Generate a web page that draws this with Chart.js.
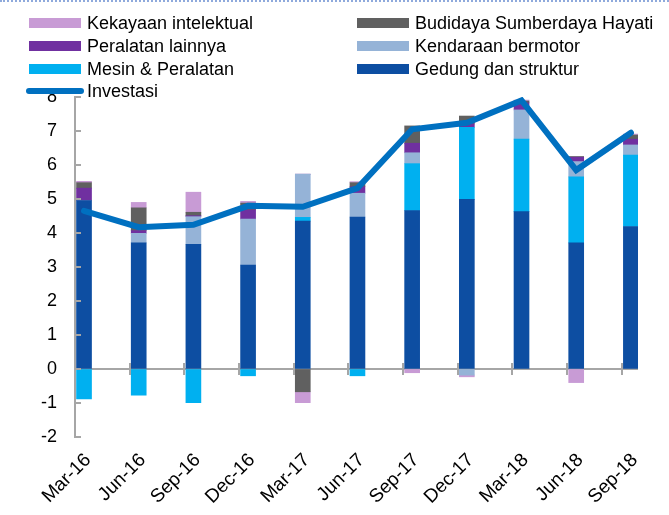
<!DOCTYPE html>
<html><head><meta charset="utf-8">
<script src="https://cdn.jsdelivr.net/npm/chart.js@4.4.1/dist/chart.umd.min.js"></script>
<style>
html,body{margin:0;padding:0;background:#fff;}
#wrap{position:relative;width:669px;height:515px;background:#fff;}
#topline{position:absolute;left:0;top:0;width:669px;height:0;border-top:2px dotted #8faadc;}
canvas{position:absolute;left:0;top:0;}
</style></head><body>
<div id="wrap"><canvas id="c" width="669" height="515"></canvas><div id="topline"></div></div>
<script>
// ---- data ----
const categories = ['Mar-16','Jun-16','Sep-16','Dec-16','Mar-17','Jun-17','Sep-17','Dec-17','Mar-18','Jun-18','Sep-18'];
const gedung     = [4.95, 3.71, 3.67, 3.06, 4.35, 4.47, 4.66, 4.99, 4.63, 3.71, 4.19];
const mesin      = [-0.88, -0.77, -0.99, -0.20, 0.11, -0.20, 1.38, 2.12, 2.13, 1.94, 2.10];
const kendaraan  = [0.00, 0.28, 0.81, 1.35, 1.27, 0.70, 0.32, -0.18, 0.86, 0.45, 0.30];
const peralatan  = [0.37, 0.08, 0.03, 0.27, 0.00, 0.19, 0.28, 0.10, 0.21, 0.13, 0.17];
const budidaya   = [0.16, 0.67, 0.10, 0.20, -0.67, 0.12, 0.51, 0.23, 0.05, 0.02, 0.12];
const kekayaan   = [0.04, 0.16, 0.59, 0.05, -0.32, 0.03, -0.11, -0.05, 0.03, -0.40, 0.03];
const investasi  = [4.65, 4.17, 4.24, 4.80, 4.77, 5.32, 7.05, 7.24, 7.90, 5.85, 6.95];
const yTicks     = [-2, -1, 0, 1, 2, 3, 4, 5, 6, 7, 8];

// ---- styles ----
const FONT = "'Liberation Sans', Arial, sans-serif";
const GRAY = '#a6a6a6';
const BAR_OFFSET = 0.165;
const barSeries = [
  {label:'Gedung dan struktur', data:gedung, color:'#0D4EA2'},
  {label:'Mesin & Peralatan', data:mesin, color:'#00B0F0'},
  {label:'Kendaraan bermotor', data:kendaraan, color:'#95B3D7'},
  {label:'Peralatan lainnya', data:peralatan, color:'#7030A0'},
  {label:'Budidaya Sumberdaya Hayati', data:budidaya, color:'#606060'},
  {label:'Kekayaan intelektual', data:kekayaan, color:'#C89BD5'}
];
const LINE_COLOR = '#0070C0';
const toXY = arr => arr.map((v, i) => ({x: i, y: v}));

const datasets = barSeries.map(s => ({
  type: 'bar', label: s.label, data: toXY(s.data),
  backgroundColor: s.color, borderWidth: 0, barThickness: 15,
  stack: 'bars', order: 1
}));
datasets.push({
  type: 'line', label: 'Investasi', data: toXY(investasi),
  borderColor: LINE_COLOR, backgroundColor: LINE_COLOR, borderWidth: 6,
  pointRadius: 0, tension: 0, fill: false, stack: 'line', order: 0,
  borderCapStyle: 'round'
});

const axisMarks = {
  id: 'axisMarks',
  beforeDatasetsDraw(chart) {
    const {ctx, chartArea: a, scales: {y}} = chart;
    const y0 = y.getPixelForValue(0);
    ctx.save();
    ctx.strokeStyle = GRAY; ctx.lineWidth = 2;
    ctx.beginPath(); ctx.moveTo(a.left, y0); ctx.lineTo(a.right, y0); ctx.stroke();
    ctx.restore();
  },
  afterDatasetsDraw(chart) {
    const {ctx, chartArea: a, scales: {x, y}} = chart;
    const y0 = y.getPixelForValue(0);
    ctx.save();
    ctx.strokeStyle = GRAY; ctx.lineWidth = 2;
    ctx.beginPath();
    categories.forEach((c, i) => {
      const px = Math.round(x.getPixelForValue(i - BAR_OFFSET));
      ctx.moveTo(px, y0 - 6); ctx.lineTo(px, y0 + 6);
    });
    yTicks.forEach(v => {
      const py = Math.round(y.getPixelForValue(v));
      ctx.moveTo(a.left, py); ctx.lineTo(a.left + 6, py);
    });
    ctx.stroke();
    ctx.restore();
  }
};

const legendPlugin = {
  id: 'customLegend',
  afterDraw(chart) {
    const ctx = chart.ctx;
    const order = [5, 4, 3, 2, 1, 0, 6];
    const colX = [29, 357];
    const rowY = [23, 46, 69, 91];
    ctx.save();
    ctx.font = '18px ' + FONT;
    ctx.textBaseline = 'middle';
    order.forEach((di, k) => {
      const ds = chart.data.datasets[di];
      const x0 = colX[k % 2], yc = rowY[Math.floor(k / 2)];
      if (ds.type === 'line') {
        ctx.strokeStyle = ds.borderColor; ctx.lineWidth = 6; ctx.lineCap = 'round';
        ctx.beginPath(); ctx.moveTo(x0, yc); ctx.lineTo(x0 + 52, yc); ctx.stroke();
      } else {
        ctx.fillStyle = ds.backgroundColor;
        ctx.fillRect(x0, yc - 5, 52, 10);
      }
      ctx.fillStyle = '#000';
      ctx.fillText(ds.label, x0 + 58, yc + 1);
    });
    ctx.restore();
  }
};

Chart.defaults.font.family = FONT;
new Chart(document.getElementById('c'), {
  type: 'bar',
  data: {datasets},
  options: {
    responsive: false, animation: false, devicePixelRatio: 1,
    layout: {padding: {top: 97, right: 31, left: 0, bottom: 0}},
    plugins: {legend: {display: false}, tooltip: {enabled: false}},
    scales: {
      x: {
        type: 'linear', stacked: true, offset: false, min: -BAR_OFFSET, max: 10.13,
        afterBuildTicks: s => { s.ticks = categories.map((c, i) => ({value: i})); },
        afterFit: s => { s.height = 78; },
        ticks: {autoSkip: false, minRotation: 45, maxRotation: 45, color: '#000',
                font: {family: FONT, size: 19}, padding: 4, labelOffset: 4,
                callback: v => categories[v] !== undefined ? categories[v] : ''},
        grid: {display: false}, border: {display: false}
      },
      y: {
        stacked: true, min: -2, max: 8,
        afterBuildTicks: s => { s.ticks = yTicks.map(v => ({value: v})); },
        afterFit: s => { s.width = 75; },
        ticks: {color: '#000', font: {family: FONT, size: 18}, padding: 18},
        grid: {drawOnChartArea: false, drawTicks: false},
        border: {color: GRAY, width: 2}
      }
    }
  },
  plugins: [axisMarks, legendPlugin]
});
</script>
</body></html>
